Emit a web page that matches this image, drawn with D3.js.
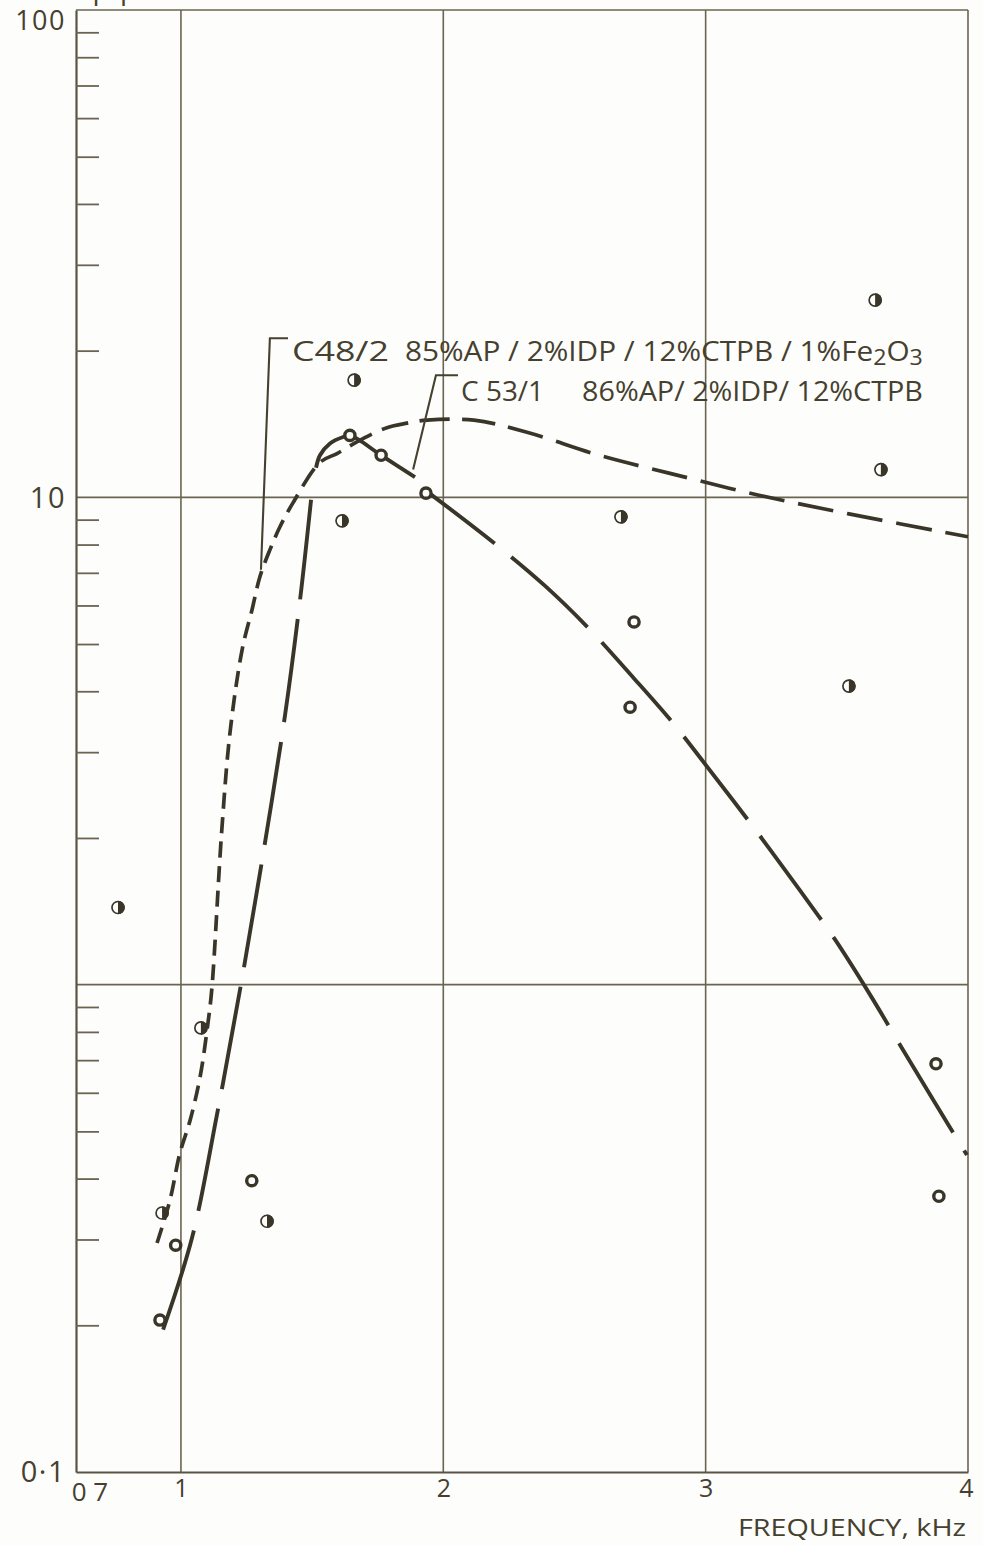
<!DOCTYPE html>
<html><head><meta charset="utf-8">
<script src="https://cdn.jsdelivr.net/npm/d3@7"></script>
<style>
body{margin:0;background:#fdfdfb;}
svg{display:block;}
text{font-family:"Open Sans",sans-serif;fill:#45402f;}
</style>
</head><body>
<svg id="chart" width="983" height="1545"></svg>
<script>
// ---------- data ----------
const xTickValues = [1, 2, 3, 4];
const xTickLabels = ["1", "2", "3", "4"];
const yMajorValues = [0.1, 10, 100];
const yMajorLabels = ["0·1", "10", "100"];
const yMinorValues = [0.2,0.3,0.4,0.5,0.6,0.7,0.8,0.9, 2,3,4,5,6,7,8,9, 20,30,40,50,60,70,80,90];
const xGridValues = [1, 2, 3, 4];
const yGridValues = [1, 10, 100];
const xOriginLabel = "0 7";
const xAxisTitle = "FREQUENCY, kHz";
const yAxisTitle = "μ/μ";

// open-circle points
const openX = [0.92, 0.98, 1.27, 1.644, 1.763, 1.934, 2.727, 2.712, 3.878, 3.889];
const openY = [0.205, 0.292, 0.396, 13.4, 12.2, 10.2, 5.55, 3.71, 0.688, 0.368];
// half-filled points
const halfX = [0.76, 0.928, 1.076, 1.328, 1.66, 1.614, 2.677, 3.668, 3.646, 3.546];
const halfY = [1.44, 0.34, 0.815, 0.327, 17.4, 8.95, 9.12, 11.4, 25.4, 4.10];

// C48/2 curve (short dashes lengthening)
const c48X = [0.909,0.958,0.996,1.035,1.073,1.103,1.118,1.155,1.187,1.233,1.271,1.301,1.339,1.377,1.427,1.530,1.595,1.683,1.785,1.862,1.938,2.117,2.319,2.594,2.864,3.203,3.546,4.0];
const c48Y = [0.295,0.361,0.451,0.527,0.647,0.834,0.984,2.05,3.29,4.86,5.88,6.87,7.80,8.69,9.74,11.8,12.3,13.1,13.9,14.2,14.4,14.4,13.6,12.2,11.2,10.1,9.25,8.3];

// C53/1 curve, three strokes
const c53RiseX = [0.932,1.042,1.137,1.225,1.313,1.397,1.454,1.496];
const c53RiseY = [0.196,0.302,0.540,0.975,1.85,3.58,6.16,9.89];
const c53PeakX = [1.515,1.530,1.568,1.618,1.644,1.763,1.892];
const c53PeakY = [11.5,12.2,12.9,13.3,13.4,12.2,11.0];
const c53FallX = [1.936,2.197,2.388,2.552,2.727,2.872,2.986,3.192,3.356,3.489,3.627,3.741,3.870,3.996];
const c53FallY = [10.3,8.03,6.58,5.40,4.25,3.46,2.89,2.07,1.57,1.247,0.953,0.752,0.577,0.447];

// labels and leaders
const c48Name = "C48/2";
const c48Desc = ["85%AP / 2%IDP / 12%CTPB / 1%Fe", "2", "O", "3"];
const c53Name = "C 53/1";
const c53Desc = "86%AP/ 2%IDP/ 12%CTPB";
const c48LeaderX = [1.408, 1.339, 1.305];
const c48LeaderY = [21.2, 21.2, 7.1];
const c53LeaderX = [2.056, 1.972, 1.885];
const c53LeaderY = [17.8, 17.8, 11.4];
const c48LabelPos = {nameX: 1.423, nameEndX: 1.793, descX: 1.854, descEndX: 3.828, y: 19.0};
const c53LabelPos = {nameX: 2.068, nameEndX: 2.384, descX: 2.529, descEndX: 3.828, y: 15.8};

// ---------- drawing ----------
const svg = d3.select("#chart");
const x = d3.scaleLinear().domain([0.6, 4]).range([76, 968]);
const y = d3.scaleLog().domain([0.1, 100]).range([1472, 10]);

const gridColor = "#6a6452", axisColor = "#5a5444", curveColor = "#3a3529";

// grid
svg.append("g").selectAll("line").data(xGridValues).join("line")
  .attr("x1", d => x(d)).attr("x2", d => x(d))
  .attr("y1", y(100)).attr("y2", y(0.1))
  .attr("stroke", gridColor).attr("stroke-width", 1.6);
svg.append("g").selectAll("line").data(yGridValues).join("line")
  .attr("x1", x(0.6)).attr("x2", x(4))
  .attr("y1", d => y(d)).attr("y2", d => y(d))
  .attr("stroke", gridColor).attr("stroke-width", 1.6);

// left axis: minor inward ticks
const gMinor = svg.append("g").attr("transform", `translate(${x(0.6)},0)`)
  .call(d3.axisLeft(y).tickValues(yMinorValues).tickSize(-23).tickSizeOuter(0).tickFormat(""));
gMinor.selectAll("line").attr("stroke", gridColor).attr("stroke-width", 1.8);
gMinor.select(".domain").attr("stroke", axisColor).attr("stroke-width", 2.2);

// left axis: major labels
const gMajor = svg.append("g").attr("transform", `translate(${x(0.6)},0)`)
  .call(d3.axisLeft(y).tickValues(yMajorValues).tickSize(0).tickPadding(10)
    .tickFormat((d, i) => yMajorLabels[i]));
gMajor.select(".domain").remove();
gMajor.selectAll("text").style("font-family", "'Open Sans',sans-serif")
  .style("font-size", d => d === 100 ? "27px" : "29px").attr("fill", "#45402f")
  .attr("dy", (d) => d === 100 ? "0.72em" : "0.34em")
  .attr("letter-spacing", "1.5");

// bottom axis
const gX = svg.append("g").attr("transform", `translate(0,${y(0.1)})`)
  .call(d3.axisBottom(x).tickValues(xTickValues).tickSize(0).tickSizeOuter(0).tickPadding(7)
    .tickFormat((d, i) => xTickLabels[i]));
gX.select(".domain").attr("stroke", axisColor).attr("stroke-width", 2.2);
gX.selectAll("text").style("font-family", "'Open Sans',sans-serif")
  .style("font-size", "25px").attr("fill", "#45402f");
gX.selectAll(".tick").filter(d => d === 4).select("text").attr("dx", "-2");

// origin label
svg.append("text").attr("x", x(0.6) + 14).attr("y", y(0.1) + 29)
  .attr("text-anchor", "middle").style("font-size", "26px").text(xOriginLabel);

// x title
svg.append("text").attr("x", x(4) - 2).attr("y", y(0.1) + 64)
  .attr("text-anchor", "end").style("font-size", "24px")
  .attr("textLength", 228).attr("lengthAdjust", "spacingAndGlyphs").text(xAxisTitle);

// y title, cut off at the top edge as in the source
svg.append("text").attr("x", 115).attr("y", -1).attr("text-anchor", "middle")
  .style("font-size", "28px").text(yAxisTitle);

// curves
const line = d3.line().x(d => x(d[0])).y(d => y(d[1])).curve(d3.curveCatmullRom.alpha(0.5));
const zip = (a, b) => a.map((v, i) => [v, b[i]]);

function variableDash(node, f) {
  const L = node.getTotalLength();
  const out = [];
  let s = 0;
  while (s < L) {
    const p = node.getPointAtLength(Math.min(s, L));
    const [d, g] = f(p);
    out.push(d.toFixed(1), g.toFixed(1));
    s += d + g;
  }
  return out.join(" ");
}

const c48Path = svg.append("path").datum(zip(c48X, c48Y)).attr("d", line)
  .attr("fill", "none").attr("stroke", curveColor).attr("stroke-width", 3.7);
c48Path.attr("stroke-dasharray", variableDash(c48Path.node(), p => {
  const t = Math.max(0, Math.min(1, (p.x - 235) / 260));
  return [16 + 20 * t, 8.5 + 5.5 * t];
}));

svg.append("path").datum(zip(c53RiseX, c53RiseY)).attr("d", line)
  .attr("fill", "none").attr("stroke", curveColor).attr("stroke-width", 3.9)
  .attr("stroke-dasharray", "104 20");
svg.append("path").datum(zip(c53PeakX, c53PeakY)).attr("d", line)
  .attr("fill", "none").attr("stroke", curveColor).attr("stroke-width", 3.9);
svg.append("path").datum(zip(c53FallX, c53FallY)).attr("d", line)
  .attr("fill", "none").attr("stroke", curveColor).attr("stroke-width", 3.9)
  .attr("stroke-dasharray", "104 21").attr("stroke-dashoffset", 18);

// leaders
const straight = d3.line().x(d => x(d[0])).y(d => y(d[1]));
[[c48LeaderX, c48LeaderY], [c53LeaderX, c53LeaderY]].forEach(([lx, ly]) => {
  svg.append("path").datum(zip(lx, ly)).attr("d", straight)
    .attr("fill", "none").attr("stroke", "#45402f").attr("stroke-width", 2.1);
});

// labels
function nameText(pos, txt) {
  svg.append("text").attr("x", x(pos.nameX)).attr("y", y(pos.y))
    .style("font-size", "27px")
    .attr("textLength", x(pos.nameEndX) - x(pos.nameX)).attr("lengthAdjust", "spacingAndGlyphs")
    .text(txt);
}
nameText(c48LabelPos, c48Name);
nameText(c53LabelPos, c53Name);

const t48 = svg.append("text").attr("x", x(c48LabelPos.descX)).attr("y", y(c48LabelPos.y))
  .style("font-size", "27px")
  .attr("textLength", x(c48LabelPos.descEndX) - x(c48LabelPos.descX))
  .attr("lengthAdjust", "spacingAndGlyphs");
t48.append("tspan").text(c48Desc[0]);
t48.append("tspan").attr("dy", 4).style("font-size", "21px").text(c48Desc[1]);
t48.append("tspan").attr("dy", -4).text(c48Desc[2]);
t48.append("tspan").attr("dy", 4).style("font-size", "21px").text(c48Desc[3]);

svg.append("text").attr("x", x(c53LabelPos.descX)).attr("y", y(c53LabelPos.y))
  .style("font-size", "27px")
  .attr("textLength", x(c53LabelPos.descEndX) - x(c53LabelPos.descX))
  .attr("lengthAdjust", "spacingAndGlyphs").text(c53Desc);

// markers
svg.append("g").selectAll("circle").data(zip(openX, openY)).join("circle")
  .attr("cx", d => x(d[0])).attr("cy", d => y(d[1])).attr("r", 5.1)
  .attr("fill", "#fdfdfb").attr("stroke", "#3a3529").attr("stroke-width", 3.4);

const halfG = svg.append("g").selectAll("g").data(zip(halfX, halfY)).join("g")
  .attr("transform", d => `translate(${x(d[0])},${y(d[1])})`);
halfG.append("circle").attr("r", 6).attr("fill", "#fdfdfb")
  .attr("stroke", "#3a3529").attr("stroke-width", 1.7);
halfG.append("path").attr("d", d3.arc()({innerRadius: 0, outerRadius: 6.8, startAngle: 0, endAngle: Math.PI}))
  .attr("fill", "#3a3529");
</script>
</body></html>
